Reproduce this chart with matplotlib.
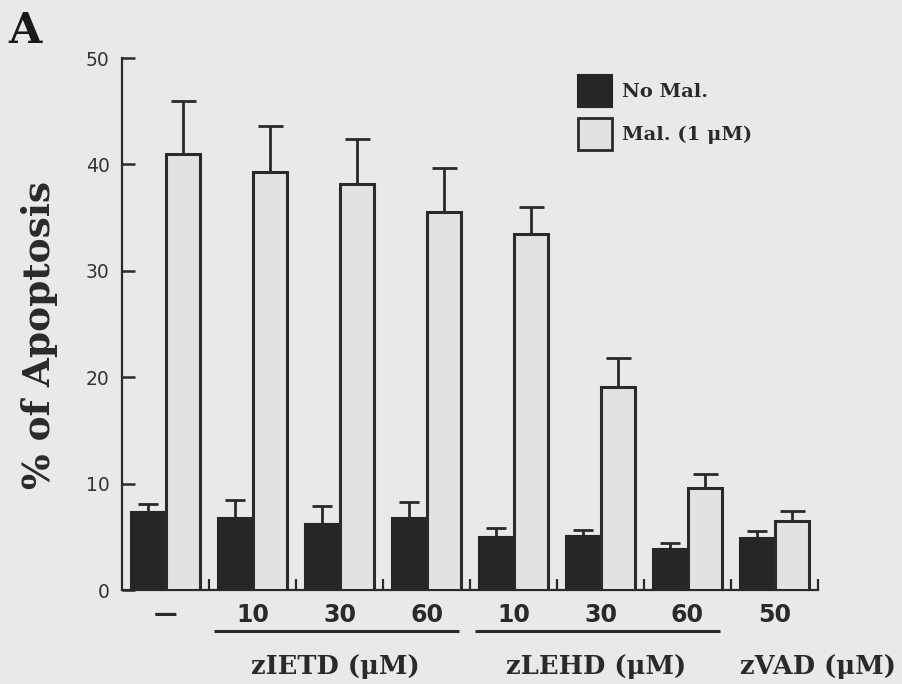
import matplotlib
matplotlib.use('Agg')
import matplotlib.pyplot as plt
import matplotlib.transforms as mtransforms
from matplotlib.patches import Rectangle
import numpy as np

# ---- data ----
conditions = ['—', '10', '30', '60', '10', '30', '60', '50']
no_mal = [7.3, 6.8, 6.2, 6.8, 5.0, 5.1, 3.9, 4.9]
no_mal_err = [0.8, 1.7, 1.7, 1.5, 0.8, 0.5, 0.5, 0.6]
mal = [41.0, 39.3, 38.2, 35.5, 33.5, 19.1, 9.6, 6.5]
mal_err = [5.0, 4.3, 4.2, 4.2, 2.5, 2.7, 1.3, 0.9]
groups = ['zIETD (μM)', 'zLEHD (μM)', 'zVAD (μM)']
group_members = [[1, 2, 3], [4, 5, 6], [7]]
yticks = [0, 10, 20, 30, 40, 50]
legend_labels = ['No Mal.', 'Mal. (1 μM)']

# ---- style ----
BG = '#e9e9e9'
DARK = '#262626'
LIGHT = '#e2e2e2'
EDGE = '#2a2a2a'
SERIF = ['DejaVu Serif']
SANS = ['DejaVu Sans']

fig = plt.figure(figsize=(9.02, 6.84), dpi=100, facecolor=BG)
ax = fig.add_axes([122/902, 94/684, 696/902, 532/684])
ax.set_facecolor(BG)

x = np.arange(len(conditions))
w = 0.40
ax.bar(x - w/2, no_mal, w, color=DARK, edgecolor=DARK, linewidth=1.5, zorder=3)
ax.bar(x + w/2, mal, w, color=LIGHT, edgecolor=EDGE, linewidth=2.2, zorder=3)
ax.errorbar(x - w/2, no_mal, yerr=[np.zeros(len(x)), no_mal_err], fmt='none',
            ecolor=EDGE, elinewidth=2, capsize=7, capthick=2, zorder=2)
ax.errorbar(x + w/2, mal, yerr=[np.zeros(len(x)), mal_err], fmt='none',
            ecolor=EDGE, elinewidth=2, capsize=9, capthick=2, zorder=2)

ax.set_xlim(-0.5, 7.5)
ax.set_ylim(0, 50)
for s in ['top', 'right']:
    ax.spines[s].set_visible(False)
for s in ['left', 'bottom']:
    ax.spines[s].set_linewidth(1.6)
    ax.spines[s].set_color(EDGE)

ax.set_yticks(yticks)
ax.set_yticklabels([str(v) for v in yticks], family=SANS, fontsize=13.5, color='#333333')
ax.tick_params(axis='y', direction='in', length=9, width=1.8, pad=9, color=EDGE)

ax.set_xticks(x)
ax.set_xticklabels(conditions, family=SANS, fontsize=17, fontweight='bold', color='#2a2a2a')
ax.tick_params(axis='x', which='major', length=0, pad=9)
ax.set_xticks(np.arange(0.5, 8, 1.0), minor=True)
ax.tick_params(axis='x', which='minor', direction='in', length=8, width=1.6, color=EDGE)

# group underlines and labels
trans = mtransforms.blended_transform_factory(ax.transData, ax.transAxes)
for members in group_members:
    if len(members) > 1:
        ax.plot([members[0] - 0.44, members[-1] + 0.37], [-0.077, -0.077], transform=trans,
                color=EDGE, lw=2.2, clip_on=False, solid_capstyle='butt')
label_x = [1.95, 4.95, 7.5]
for name, lx in zip(groups, label_x):
    ax.text(lx, -0.143, name, transform=trans, ha='center', va='center',
            family=SERIF, fontsize=18.5, fontweight='bold', color='#2a2a2a')

# legend (manual)
ax.add_patch(Rectangle((0.655, 0.908), 0.049, 0.060, transform=ax.transAxes,
                       facecolor=DARK, edgecolor=DARK, lw=1.5, clip_on=False))
ax.add_patch(Rectangle((0.655, 0.827), 0.049, 0.060, transform=ax.transAxes,
                       facecolor=LIGHT, edgecolor=EDGE, lw=2, clip_on=False))
ax.text(0.718, 0.936, legend_labels[0], transform=ax.transAxes, ha='left', va='center',
        family=SERIF, fontsize=14, fontweight='bold', color='#2a2a2a')
ax.text(0.718, 0.856, legend_labels[1], transform=ax.transAxes, ha='left', va='center',
        family=SERIF, fontsize=14, fontweight='bold', color='#2a2a2a')

# y label and panel letter
fig.text(40/902, 1 - 335/684, '% of Apoptosis', rotation=90, ha='center', va='center',
         family=SERIF, fontsize=27, fontweight='bold', color='#2a2a2a')
fig.text(8/902, 1 - 43/684, 'A', ha='left', va='baseline',
         family=SERIF, fontsize=31, fontweight='bold', color='#1a1a1a')

fig.savefig('out.png', dpi=100, facecolor=BG)
